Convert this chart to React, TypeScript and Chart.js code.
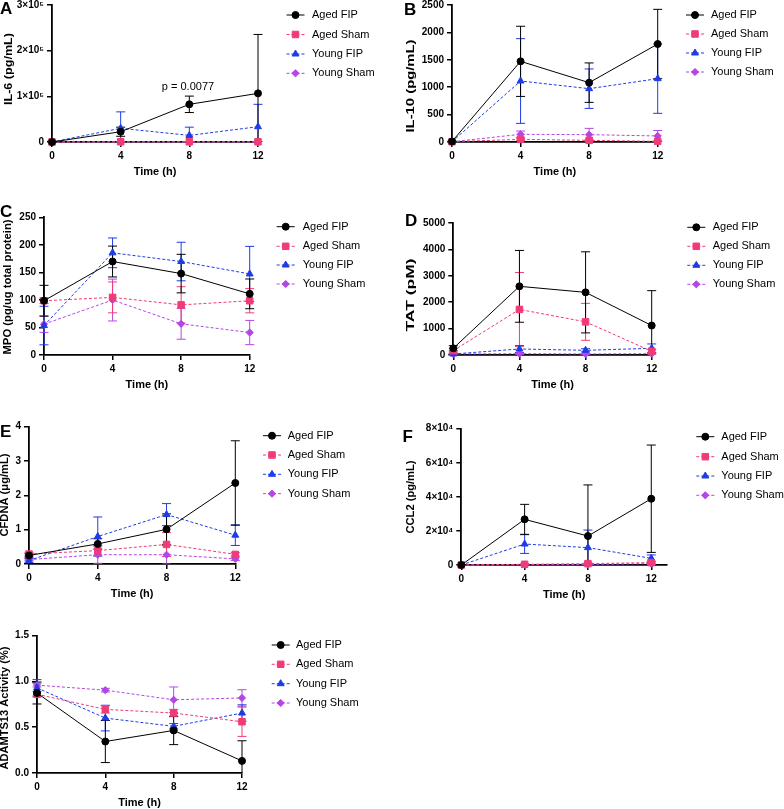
import React, { useEffect, useRef } from 'react';
import { Chart, registerables } from 'chart.js';
import { drawPoint } from 'chart.js/helpers';

Chart.register(...registerables);

const FONT = '"Liberation Sans", Arial, Helvetica, sans-serif';

// ---------- shared data ----------
const TIME = [0, 4, 8, 12];
const X_LABELS = ['0', '4', '8', '12'];
const GROUPS = ['Aged FIP', 'Aged Sham', 'Young FIP', 'Young Sham'];

// ---------- A: IL-6 ----------
const IL6_TICKS = ['0', '1×10⁵', '2×10⁵', '3×10⁵'];
const IL6_AGED_FIP = [0, 22500, 82500, 106500];
const IL6_AGED_FIP_SD = [2000, 10000, 18000, 129000];
const IL6_AGED_SHAM = [0, 500, 500, 500];
const IL6_AGED_SHAM_SD = [0, 500, 500, 500];
const IL6_YOUNG_FIP = [0, 30000, 14500, 33500];
const IL6_YOUNG_FIP_SD = [0, 36000, 18000, 49000];
const IL6_YOUNG_SHAM = [0, 300, 300, 300];
const IL6_YOUNG_SHAM_SD = [0, 200, 200, 200];

// ---------- B: IL-10 ----------
const IL10_TICKS = ['0', '500', '1000', '1500', '2000', '2500'];
const IL10_AGED_FIP = [10, 1472, 1083, 1788];
const IL10_AGED_FIP_SD = [5, 640, 360, 633];
const IL10_AGED_SHAM = [5, 49, 30, 12];
const IL10_AGED_SHAM_SD = [5, 20, 15, 10];
const IL10_YOUNG_FIP = [5, 1113, 973, 1156];
const IL10_YOUNG_FIP_SD = [5, 773, 360, 633];
const IL10_YOUNG_SHAM = [5, 140, 134, 110];
const IL10_YOUNG_SHAM_SD = [5, 60, 115, 100];

// ---------- C: MPO ----------
const MPO_TICKS = ['0', '50', '100', '150', '200', '250'];
const MPO_AGED_FIP = [98.5, 169.7, 147.8, 111];
const MPO_AGED_FIP_SD = [28, 28, 35, 27];
const MPO_AGED_SHAM = [98.5, 104.6, 91, 98.5];
const MPO_AGED_SHAM_SD = [5, 28, 33, 22];
const MPO_YOUNG_FIP = [53.5, 185.5, 169.7, 147.2];
const MPO_YOUNG_FIP_SD = [35, 27, 35, 50];
const MPO_YOUNG_SHAM = [56, 99.8, 56.6, 40.8];
const MPO_YOUNG_SHAM_SD = [15, 38, 28, 22];

// ---------- D: TAT ----------
const TAT_TICKS = ['0', '1000', '2000', '3000', '4000', '5000'];
const TAT_AGED_FIP = [254, 2601, 2373, 1117];
const TAT_AGED_FIP_SD = [100, 1360, 1536, 1320];
const TAT_AGED_SHAM = [165, 1726, 1256, 140];
const TAT_AGED_SHAM_SD = [80, 1400, 700, 80];
const TAT_YOUNG_FIP = [38, 228, 178, 254];
const TAT_YOUNG_FIP_SD = [20, 130, 60, 165];
const TAT_YOUNG_SHAM = [40, 50, 40, 50];
const TAT_YOUNG_SHAM_SD = [10, 20, 20, 20];

// ---------- E: CFDNA ----------
const CFDNA_TICKS = ['0', '1', '2', '3', '4'];
const CFDNA_AGED_FIP = [0.25, 0.585, 1.01, 2.36];
const CFDNA_AGED_FIP_SD = [0.05, 0.15, 0.45, 1.23];
const CFDNA_AGED_SHAM = [0.29, 0.39, 0.57, 0.28];
const CFDNA_AGED_SHAM_SD = [0.05, 0.15, 0.35, 0.05];
const CFDNA_YOUNG_FIP = [0.1, 0.8, 1.44, 0.84];
const CFDNA_YOUNG_FIP_SD = [0.05, 0.57, 0.32, 0.3];
const CFDNA_YOUNG_SHAM = [0.13, 0.27, 0.27, 0.15];
const CFDNA_YOUNG_SHAM_SD = [0.03, 0.25, 0.27, 0.05];

// ---------- F: CCL2 ----------
const CCL2_TICKS = ['0', '2×10⁴', '4×10⁴', '6×10⁴', '8×10⁴'];
const CCL2_AGED_FIP = [0, 26800, 17000, 38900];
const CCL2_AGED_FIP_SD = [200, 8800, 30000, 31500];
const CCL2_AGED_SHAM = [0, 400, 800, 1400];
const CCL2_AGED_SHAM_SD = [0, 300, 500, 800];
const CCL2_YOUNG_FIP = [0, 12300, 10200, 3900];
const CCL2_YOUNG_FIP_SD = [0, 5500, 10300, 2000];
const CCL2_YOUNG_SHAM = [0, 300, 300, 800];
const CCL2_YOUNG_SHAM_SD = [0, 200, 200, 400];

// ---------- G: ADAMTS13 ----------
const ADAM_TICKS = ['0.0', '0.5', '1.0', '1.5'];
const ADAM_AGED_FIP = [0.874, 0.344, 0.465, 0.132];
const ADAM_AGED_FIP_SD = [0.12, 0.23, 0.155, 0.22];
const ADAM_AGED_SHAM = [0.86, 0.695, 0.655, 0.56];
const ADAM_AGED_SHAM_SD = [0.03, 0.04, 0.04, 0.16];
const ADAM_YOUNG_FIP = [0.93, 0.6, 0.51, 0.655];
const ADAM_YOUNG_FIP_SD = [0.09, 0.14, 0.03, 0.09];
const ADAM_YOUNG_SHAM = [0.96, 0.905, 0.8, 0.82];
const ADAM_YOUNG_SHAM_SD = [0.02, 0.02, 0.14, 0.09];

// ---------- styles ----------
const STYLE = [
  { color: '#000000', shape: 'circle', radius: 3.5, dash: [] as number[] },
  { color: '#EF3C78', shape: 'rect', radius: 4.6, dash: [3, 2] },
  { color: '#1E3CE6', shape: 'triangle', radius: 4.0, dash: [3, 2] },
  { color: '#B446E6', shape: 'rectRot', radius: 3.6, dash: [3, 2] },
];

type Panel = {
  letter: string;
  yTitle: string;
  yTitleX: number;
  yTitleY: number;
  yTitleLen: number;
  ticks: string[];
  step: number;
  xMax: number;
  means: number[][];
  sds: number[][];
  canvasLeft: number;
  canvasTop: number;
  canvasRight: number;
  x0: number; x1: number; y0: number; y1: number;
  letterX: number; letterY: number;
  legendMarkX: number; legendTextX: number; legendRows: number[];
  note?: { text: string; x: number; y: number };
};

const PANELS: Panel[] = [
  {
    letter: 'A', yTitle: 'IL-6 (pg/mL)', yTitleX: 8.5, yTitleY: 69, yTitleLen: 72,
    ticks: IL6_TICKS, step: 100000, xMax: 12,
    means: [IL6_AGED_FIP, IL6_AGED_SHAM, IL6_YOUNG_FIP, IL6_YOUNG_SHAM],
    sds: [IL6_AGED_FIP_SD, IL6_AGED_SHAM_SD, IL6_YOUNG_FIP_SD, IL6_YOUNG_SHAM_SD],
    canvasLeft: 0, canvasTop: -10, canvasRight: 392,
    x0: 52, x1: 258, y0: 5, y1: 142,
    letterX: 0, letterY: 14,
    legendMarkX: 295.5, legendTextX: 312, legendRows: [15, 34.5, 54, 73.3],
    note: { text: 'p = 0.0077', x: 188, y: 87 },
  },
  {
    letter: 'B', yTitle: 'IL-10 (pg/mL)', yTitleX: 411, yTitleY: 86, yTitleLen: 93,
    ticks: IL10_TICKS, step: 500, xMax: 12,
    means: [IL10_AGED_FIP, IL10_AGED_SHAM, IL10_YOUNG_FIP, IL10_YOUNG_SHAM],
    sds: [IL10_AGED_FIP_SD, IL10_AGED_SHAM_SD, IL10_YOUNG_FIP_SD, IL10_YOUNG_SHAM_SD],
    canvasLeft: 398, canvasTop: -10, canvasRight: 784,
    x0: 452, x1: 657.7, y0: 5, y1: 142,
    letterX: 404, letterY: 15,
    legendMarkX: 695, legendTextX: 711, legendRows: [15, 34, 53, 72],
  },
  {
    letter: 'C', yTitle: 'MPO (pg/ug total protein)', yTitleX: 8, yTitleY: 287, yTitleLen: 135,
    ticks: MPO_TICKS, step: 50, xMax: 12,
    means: [MPO_AGED_FIP, MPO_AGED_SHAM, MPO_YOUNG_FIP, MPO_YOUNG_SHAM],
    sds: [MPO_AGED_FIP_SD, MPO_AGED_SHAM_SD, MPO_YOUNG_FIP_SD, MPO_YOUNG_SHAM_SD],
    canvasLeft: 0, canvasTop: 190, canvasRight: 392,
    x0: 44, x1: 249.7, y0: 217.3, y1: 354.3,
    letterX: 0, letterY: 217,
    legendMarkX: 285.7, legendTextX: 302.7, legendRows: [226.7, 246.3, 265, 284],
  },
  {
    letter: 'D', yTitle: 'TAT (pM)', yTitleX: 411, yTitleY: 295, yTitleLen: 73,
    ticks: TAT_TICKS, step: 1000, xMax: 12,
    means: [TAT_AGED_FIP, TAT_AGED_SHAM, TAT_YOUNG_FIP, TAT_YOUNG_SHAM],
    sds: [TAT_AGED_FIP_SD, TAT_AGED_SHAM_SD, TAT_YOUNG_FIP_SD, TAT_YOUNG_SHAM_SD],
    canvasLeft: 398, canvasTop: 190, canvasRight: 784,
    x0: 453.3, x1: 651.7, y0: 223, y1: 354.3,
    letterX: 405, letterY: 226,
    legendMarkX: 696.3, legendTextX: 712.7, legendRows: [227.3, 246.3, 265.3, 284.3],
  },
  {
    letter: 'E', yTitle: 'CFDNA (μg/mL)', yTitleX: 5, yTitleY: 495, yTitleLen: 83,
    ticks: CFDNA_TICKS, step: 1, xMax: 12,
    means: [CFDNA_AGED_FIP, CFDNA_AGED_SHAM, CFDNA_YOUNG_FIP, CFDNA_YOUNG_SHAM],
    sds: [CFDNA_AGED_FIP_SD, CFDNA_AGED_SHAM_SD, CFDNA_YOUNG_FIP_SD, CFDNA_YOUNG_SHAM_SD],
    canvasLeft: 0, canvasTop: 390, canvasRight: 392,
    x0: 29, x1: 235.3, y0: 426.7, y1: 563.3,
    letterX: 0, letterY: 437,
    legendMarkX: 272, legendTextX: 287.7, legendRows: [435.7, 455, 474.3, 493.7],
  },
  {
    letter: 'F', yTitle: 'CCL2 (pg/mL)', yTitleX: 411, yTitleY: 497, yTitleLen: 73,
    ticks: CCL2_TICKS, step: 20000, xMax: 13,
    means: [CCL2_AGED_FIP, CCL2_AGED_SHAM, CCL2_YOUNG_FIP, CCL2_YOUNG_SHAM],
    sds: [CCL2_AGED_FIP_SD, CCL2_AGED_SHAM_SD, CCL2_YOUNG_FIP_SD, CCL2_YOUNG_SHAM_SD],
    canvasLeft: 398, canvasTop: 390, canvasRight: 784,
    x0: 461.3, x1: 667.1, y0: 428.7, y1: 565,
    letterX: 402.5, letterY: 441.5,
    legendMarkX: 705.3, legendTextX: 721.3, legendRows: [436.7, 456.7, 476, 495.3],
  },
  {
    letter: '', yTitle: 'ADAMTS13 Activity (%)', yTitleX: 5, yTitleY: 708, yTitleLen: 123,
    ticks: ADAM_TICKS, step: 0.5, xMax: 12,
    means: [ADAM_AGED_FIP, ADAM_AGED_SHAM, ADAM_YOUNG_FIP, ADAM_YOUNG_SHAM],
    sds: [ADAM_AGED_FIP_SD, ADAM_AGED_SHAM_SD, ADAM_YOUNG_FIP_SD, ADAM_YOUNG_SHAM_SD],
    canvasLeft: 0, canvasTop: 590, canvasRight: 392,
    x0: 37, x1: 242, y0: 635.7, y1: 772.3,
    letterX: 0, letterY: 0,
    legendMarkX: 280.7, legendTextX: 296, legendRows: [645, 664.3, 683.7, 703],
  },
];

const X_AXIS_H = 37;
const BOTTOM_PAD = 4;

function geom(p: Panel) {
  return {
    left: p.canvasLeft,
    w: p.canvasRight - p.canvasLeft,
    h: Math.ceil(p.y1 + X_AXIS_H + BOTTOM_PAD - p.canvasTop),
  };
}

const errorBarPlugin = {
  id: 'errorBars',
  beforeDatasetsDraw(chart: any) {
    const { ctx, chartArea } = chart;
    const xs = chart.scales.x;
    const ys = chart.scales.y;
    ctx.save();
    ctx.beginPath();
    ctx.rect(chartArea.left - 10, chartArea.top - 10, chartArea.right - chartArea.left + 20, chartArea.bottom - chartArea.top + 10);
    ctx.clip();
    const n = chart.data.datasets.length;
    for (let i = n - 1; i >= 0; i--) {
      const ds = chart.data.datasets[i];
      const errs: number[] = ds.errors;
      ctx.strokeStyle = ds.borderColor;
      ctx.lineWidth = 1;
      ctx.setLineDash([]);
      ds.data.forEach((pt: any, j: number) => {
        const e = errs[j];
        if (!e) return;
        const x = xs.getPixelForValue(pt.x);
        const yT = ys.getPixelForValue(pt.y + e);
        const yB = ys.getPixelForValue(pt.y - e);
        ctx.beginPath();
        ctx.moveTo(x, yT);
        ctx.lineTo(x, yB);
        ctx.moveTo(x - 4.5, yT);
        ctx.lineTo(x + 4.5, yT);
        ctx.moveTo(x - 4.5, yB);
        ctx.lineTo(x + 4.5, yB);
        ctx.stroke();
      });
    }
    ctx.restore();
  },
};

function decorPlugin(p: Panel, ox: number) {
  return {
    id: 'decor',
    afterDraw(chart: any) {
      const ctx = chart.ctx;
      const oy = p.canvasTop;
      ctx.save();
      // y-axis title (stretched along its length like the reference)
      ctx.save();
      ctx.translate(p.yTitleX - ox, p.yTitleY - oy);
      ctx.rotate(-Math.PI / 2);
      ctx.font = `bold 11px ${FONT}`;
      const tw = ctx.measureText(p.yTitle).width;
      ctx.scale(p.yTitleLen / tw, 1);
      ctx.fillStyle = '#000';
      ctx.textAlign = 'center';
      ctx.textBaseline = 'middle';
      ctx.fillText(p.yTitle, 0, 0);
      ctx.restore();
      // panel letter
      if (p.letter) {
        ctx.fillStyle = '#000';
        ctx.font = `bold 17px ${FONT}`;
        ctx.textAlign = 'left';
        ctx.textBaseline = 'alphabetic';
        ctx.fillText(p.letter, p.letterX - ox, p.letterY - oy);
      }
      // legend
      GROUPS.forEach((g, i) => {
        const st = STYLE[i];
        const y = p.legendRows[i] - oy;
        const mx = p.legendMarkX - ox;
        ctx.strokeStyle = st.color;
        ctx.fillStyle = st.color;
        ctx.lineWidth = 1;
        ctx.setLineDash(st.dash);
        ctx.beginPath();
        ctx.moveTo(mx - 9, y);
        ctx.lineTo(mx + 9, y);
        ctx.stroke();
        ctx.setLineDash([]);
        drawPoint(ctx, { pointStyle: st.shape as any, radius: st.radius, rotation: 0, borderWidth: 1 }, mx, y);
        ctx.fillStyle = '#000';
        ctx.font = `11px ${FONT}`;
        ctx.textAlign = 'left';
        ctx.textBaseline = 'middle';
        ctx.fillText(g, p.legendTextX - ox, y);
      });
      if (p.note) {
        ctx.fillStyle = '#000';
        ctx.font = `11px ${FONT}`;
        ctx.textAlign = 'center';
        ctx.textBaseline = 'middle';
        ctx.fillText(p.note.text, p.note.x - ox, p.note.y - oy);
      }
      ctx.restore();
    },
  };
}

function makeChart(canvas: HTMLCanvasElement, p: Panel) {
  const { left, w } = geom(p);
  const yWidth = p.x0 - left;
  const yMax = p.step * (p.ticks.length - 1);
  const tickFont = { family: FONT, size: 10, weight: 'bold' as const };
  const xTitleFont = { family: FONT, size: 11, weight: 'bold' as const };
  return new Chart(canvas, {
    type: 'line',
    data: {
      datasets: GROUPS.map((g, i) => ({
        label: g,
        data: TIME.map((t, j) => ({ x: t, y: p.means[i][j] })),
        errors: p.sds[i],
        borderColor: STYLE[i].color,
        backgroundColor: STYLE[i].color,
        borderWidth: 1,
        borderDash: STYLE[i].dash,
        pointStyle: STYLE[i].shape,
        pointRadius: STYLE[i].radius,
        pointHoverRadius: STYLE[i].radius,
        pointBackgroundColor: STYLE[i].color,
        pointBorderColor: STYLE[i].color,
        pointBorderWidth: 1,
        tension: 0,
        fill: false,
        clip: false,
      })) as any,
    },
    options: {
      responsive: false,
      animation: false,
      events: [],
      layout: {
        autoPadding: false,
        padding: {
          left: 0,
          top: p.y0 - p.canvasTop,
          right: left + w - p.x1,
          bottom: BOTTOM_PAD,
        },
      },
      plugins: {
        legend: { display: false },
        tooltip: { enabled: false },
        title: { display: false },
      },
      scales: {
        x: {
          type: 'linear',
          min: 0,
          max: p.xMax,
          afterBuildTicks: (s: any) => {
            s.ticks = TIME.map((v) => ({ value: v }));
          },
          afterFit: (s: any) => {
            s.height = X_AXIS_H;
          },
          ticks: {
            callback: (_v: any, i: number) => X_LABELS[i],
            font: tickFont,
            color: '#000',
            padding: 3,
            maxRotation: 0,
            minRotation: 0,
            autoSkip: false,
          },
          grid: { display: true, drawOnChartArea: false, drawTicks: true, tickLength: 5, color: '#000', lineWidth: 1.5 },
          border: { display: true, color: '#000', width: 1.8 },
          title: { display: true, text: 'Time (h)', font: xTitleFont, color: '#000', padding: 0 },
        },
        y: {
          type: 'linear',
          min: 0,
          max: yMax,
          afterBuildTicks: (s: any) => {
            s.ticks = p.ticks.map((_l, i) => ({ value: i * p.step }));
          },
          afterFit: (s: any) => {
            s.width = yWidth;
          },
          ticks: {
            callback: (_v: any, i: number) => p.ticks[i],
            font: tickFont,
            color: '#000',
            padding: 3,
            autoSkip: false,
          },
          grid: { display: true, drawOnChartArea: false, drawTicks: true, tickLength: 5, color: '#000', lineWidth: 1.5 },
          border: { display: true, color: '#000', width: 1.8 },
          title: { display: false },
        },
      },
    } as any,
    plugins: [errorBarPlugin, decorPlugin(p, left)],
  });
}

export default function App() {
  const refs = useRef<(HTMLCanvasElement | null)[]>([]);

  useEffect(() => {
    const charts = PANELS.map((p, i) => makeChart(refs.current[i] as HTMLCanvasElement, p));
    return () => charts.forEach((c) => c.destroy());
  }, []);

  return (
    <div
      style={{
        position: 'absolute',
        left: 0,
        top: 0,
        width: 784,
        height: 809,
        overflow: 'hidden',
        background: '#fff',
      }}
    >
      {PANELS.map((p, i) => {
        const { left, w, h } = geom(p);
        return (
          <canvas
            key={i}
            ref={(el) => {
              refs.current[i] = el;
            }}
            width={w}
            height={h}
            style={{ position: 'absolute', left, top: p.canvasTop, width: w, height: h, display: 'block' }}
          />
        );
      })}
    </div>
  );
}
